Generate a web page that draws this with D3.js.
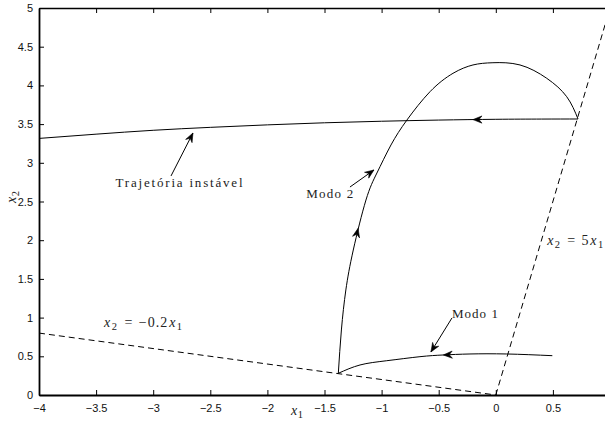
<!DOCTYPE html>
<html>
<head>
<meta charset="utf-8">
<script src="https://cdn.jsdelivr.net/npm/d3@7/dist/d3.min.js"></script>
<style>
  html, body { margin: 0; padding: 0; background: #fff; }
  svg { display: block; }
  .tick text { font-family: "Liberation Sans", Arial, sans-serif; font-size: 11px; fill: #111; }
  .lbl { font-family: "Liberation Serif", "DejaVu Serif", serif; font-size: 13px; fill: #222; }
  .math { font-family: "Liberation Serif", "DejaVu Serif", serif; font-size: 14px; fill: #222; }
</style>
</head>
<body>
<svg id="chart" width="605" height="421"></svg>
<script>
// Phase-plane trajectories of the switched system (x1, x2)
const xTicks = [-4, -3.5, -3, -2.5, -2, -1.5, -1, -0.5, 0, 0.5];
const yTicks = [0, 0.5, 1, 1.5, 2, 2.5, 3, 3.5, 4, 4.5, 5];

// Unstable trajectory, leaving the switching line x2 = 5x1 to the left
const unstableX1 = [0.72, 0.4, 0, -0.5, -1, -1.5, -2, -2.5, -3, -3.5, -4];
const unstableX2 = [3.566, 3.565, 3.562, 3.552, 3.537, 3.517, 3.49, 3.458, 3.42, 3.37, 3.315];

// Mode 2 arc from the line x2 = -0.2x1 up to the line x2 = 5x1
const mode2X1 = [-1.379, -1.352, -1.313, -1.248, -1.137, -1.041, -0.918, -0.778, -0.576, -0.375, -0.2, -0.025, 0.212, 0.446, 0.621, 0.72];
const mode2X2 = [0.28, 0.84, 1.357, 1.873, 2.519, 2.868, 3.23, 3.553, 3.919, 4.156, 4.264, 4.293, 4.264, 4.092, 3.854, 3.566];

// Mode 1 arc from the initial point (0.5, 0.5)
const mode1X1 = [0.495, 0.095, -0.226, -0.46, -0.664, -0.955, -1.189, -1.379];
const mode1X2 = [0.508, 0.53, 0.53, 0.517, 0.495, 0.443, 0.388, 0.28];

// Switching lines
const lineA = { x1: [-4, 0], slope: -0.2 };
const lineB = { x1: [0, 1], slope: 5 };

const svg = d3.select("#chart");
const mLeft = 39, mRight = 610, mTop = 8, mBottom = 395;

const x = d3.scaleLinear().domain([-4, 1]).range([mLeft, mRight]);
const y = d3.scaleLinear().domain([0, 5]).range([mBottom, mTop]);
const fmt = d3.format("~g");

svg.append("defs").append("clipPath").attr("id", "plotclip")
  .append("rect").attr("x", mLeft).attr("y", mTop)
  .attr("width", mRight - mLeft).attr("height", mBottom - mTop);

// Axes with inward ticks (box style)
function styleAxis(g, w) {
  g.select(".domain").attr("stroke", "#000").attr("stroke-width", w);
  g.selectAll(".tick line").attr("stroke", "#000").attr("stroke-width", 1);
}
svg.append("g").attr("transform", `translate(0,${mBottom})`)
  .call(d3.axisBottom(x).tickValues(xTicks).tickSize(-5).tickSizeOuter(0).tickPadding(9).tickFormat(fmt))
  .call(g => styleAxis(g, 1.8))
  .call(g => g.selectAll(".tick text").attr("dy", "0.71em"));
svg.append("g").attr("transform", `translate(0,${mTop})`)
  .call(d3.axisTop(x).tickValues(xTicks).tickSize(-5).tickSizeOuter(0).tickFormat(""))
  .call(g => styleAxis(g, 1.3));
svg.append("g").attr("transform", `translate(${mLeft},0)`)
  .call(d3.axisLeft(y).tickValues(yTicks).tickSize(-5).tickSizeOuter(0).tickPadding(6).tickFormat(fmt))
  .call(g => styleAxis(g, 1.8));
svg.append("g").attr("transform", `translate(${mRight},0)`)
  .call(d3.axisRight(y).tickValues(yTicks).tickSize(-5).tickSizeOuter(0).tickFormat(""))
  .call(g => styleAxis(g, 1.3));

const plot = svg.append("g").attr("clip-path", "url(#plotclip)");

// Dashed switching lines
[lineA, lineB].forEach(l => {
  plot.append("line")
    .attr("x1", x(l.x1[0])).attr("y1", y(l.slope * l.x1[0]))
    .attr("x2", x(l.x1[1])).attr("y2", y(l.slope * l.x1[1]))
    .attr("stroke", "#000").attr("stroke-width", 1)
    .attr("stroke-dasharray", "6,4");
});

// Trajectories
const line = d3.line().x(d => x(d[0])).y(d => y(d[1])).curve(d3.curveNatural);
[[unstableX1, unstableX2], [mode2X1, mode2X2], [mode1X1, mode1X2]].forEach(([xs, ys]) => {
  plot.append("path")
    .datum(d3.zip(xs, ys))
    .attr("d", line)
    .attr("fill", "none").attr("stroke", "#000").attr("stroke-width", 1);
});

// Notched arrowhead with its tip at (tx, ty), pointing away from (fx, fy)
function arrowHead(fx, fy, tx, ty, len = 9, half = 3.6, notch = 3) {
  const dx = tx - fx, dy = ty - fy, n = Math.hypot(dx, dy);
  const ux = dx / n, uy = dy / n, px = -uy, py = ux;
  const bx = tx - ux * len, by = ty - uy * len;
  const pts = [
    [tx, ty],
    [bx + px * half, by + py * half],
    [tx - ux * (len - notch), ty - uy * (len - notch)],
    [bx - px * half, by - py * half]
  ];
  svg.append("path").attr("d", "M" + pts.map(p => p.join(",")).join("L") + "Z")
    .attr("fill", "#000").attr("stroke", "#000").attr("stroke-width", 0.6)
    .attr("stroke-linejoin", "miter");
}

// Direction arrows on the trajectories: [from x1, from x2, tip x1, tip x2]
const flowArrows = [
  [0.1, 3.561, -0.2, 3.558],
  [-1.25, 1.87, -1.206, 2.153],
  [-0.226, 0.53, -0.46, 0.517]
];
flowArrows.forEach(a => arrowHead(x(a[0]), y(a[1]), x(a[2]), y(a[3])));

// Annotation arrows: [start x1, start x2, tip x1, tip x2]
const noteArrows = [
  [-2.844, 2.83, -2.652, 3.385],
  [-1.277, 2.687, -1.067, 2.907],
  [-0.384, 0.995, -0.568, 0.556]
];
noteArrows.forEach(a => {
  svg.append("line")
    .attr("x1", x(a[0])).attr("y1", y(a[1]))
    .attr("x2", x(a[2])).attr("y2", y(a[3]))
    .attr("stroke", "#000").attr("stroke-width", 1);
  arrowHead(x(a[0]), y(a[1]), x(a[2]), y(a[3]));
});

// Text annotations
svg.append("text").attr("class", "lbl")
  .attr("x", x(-3.33)).attr("y", y(2.69))
  .attr("textLength", 127).attr("lengthAdjust", "spacing")
  .text("Trajetória instável");
svg.append("text").attr("class", "lbl")
  .attr("x", x(-1.66)).attr("y", y(2.55))
  .attr("textLength", 47).attr("lengthAdjust", "spacing")
  .text("Modo 2");
svg.append("text").attr("class", "lbl")
  .attr("x", x(-0.384)).attr("y", y(1.0))
  .attr("textLength", 46).attr("lengthAdjust", "spacing")
  .text("Modo 1");

// Math labels: italic variable with subscript
function mathLabel(g, parts) {
  const t = g.append("text").attr("class", "math");
  parts.forEach(p => {
    const s = t.append("tspan").text(p.t);
    if (p.i) s.attr("font-style", "italic");
    if (p.sub) s.attr("font-size", "10.5px").attr("baseline-shift", "-3px");
    if (p.dx) s.attr("dx", p.dx);
  });
  return t;
}
mathLabel(svg, [
  { t: "x", i: true }, { t: "2", sub: true, dx: 0.5 }, { t: " = ", dx: 2 }, { t: "−0.2", dx: 1 }, { t: "x", i: true, dx: 1 }, { t: "1", sub: true, dx: 0.5 }
]).attr("x", x(-3.43)).attr("y", y(0.88))
  .attr("textLength", 78).attr("lengthAdjust", "spacing");

mathLabel(svg, [
  { t: "x", i: true }, { t: "2", sub: true, dx: 0.5 }, { t: " = ", dx: 2 }, { t: "5", dx: 1 }, { t: "x", i: true, dx: 1 }, { t: "1", sub: true, dx: 0.5 }
]).attr("x", x(0.45)).attr("y", y(1.94))
  .attr("textLength", 56).attr("lengthAdjust", "spacing");

mathLabel(svg, [{ t: "x", i: true }, { t: "1", sub: true, dx: 0.5 }])
  .attr("x", 297).attr("y", 415).attr("text-anchor", "middle");

mathLabel(svg, [{ t: "x", i: true }, { t: "2", sub: true, dx: 0.5 }])
  .attr("transform", "translate(16,197) rotate(-90)").attr("text-anchor", "middle");
</script>
</body>
</html>
